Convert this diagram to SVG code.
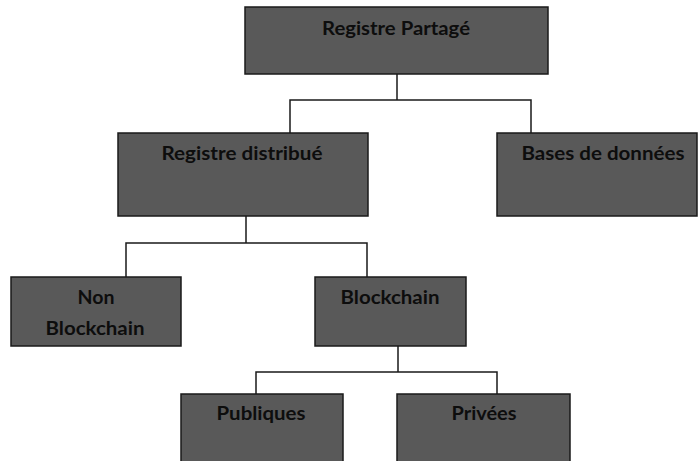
<svg xmlns="http://www.w3.org/2000/svg" width="698" height="461" viewBox="0 0 698 461">
<style>
.box{fill:#595959;stroke:#1a1a1a;stroke-width:1.5}
.lbl{font-family:Lato,"Liberation Sans",sans-serif;font-weight:bold;font-size:18px;fill:#0d0d0d;text-anchor:middle}
.conn{fill:none;stroke:#1a1a1a;stroke-width:1.5}
</style>
<rect width="698" height="461" fill="#fff"/>
<g id="connectors">
<path class="conn" d="M397,74 V100 M290,133 V100 H531 V133"/>
<path class="conn" d="M246,216 V243 M126,277 V243 H367 V277"/>
<path class="conn" d="M398,346 V372 M256,394 V372 H497 V394"/>
</g>
<g id="n-registre-partage"><rect class="box" x="245" y="7" width="303" height="67"/><text class="lbl" x="396" y="35" textLength="148" lengthAdjust="spacingAndGlyphs">Registre Partagé</text></g>
<g id="n-registre-distribue"><rect class="box" x="118" y="133" width="250" height="83"/><text class="lbl" x="242" y="160" textLength="161" lengthAdjust="spacingAndGlyphs">Registre distribué</text></g>
<g id="n-bases"><rect class="box" x="497" y="133" width="200" height="83"/><text class="lbl" x="603" y="160" textLength="163" lengthAdjust="spacingAndGlyphs">Bases de données</text></g>
<g id="n-non-blockchain"><rect class="box" x="11" y="277" width="170" height="69"/><text class="lbl" x="96" y="304" textLength="37" lengthAdjust="spacingAndGlyphs">Non</text><text class="lbl" x="95" y="335" textLength="99" lengthAdjust="spacingAndGlyphs">Blockchain</text></g>
<g id="n-blockchain"><rect class="box" x="315" y="277" width="151" height="69"/><text class="lbl" x="390" y="304" textLength="99" lengthAdjust="spacingAndGlyphs">Blockchain</text></g>
<g id="n-publiques"><rect class="box" x="181" y="394" width="162" height="80"/><text class="lbl" x="261" y="420" textLength="89" lengthAdjust="spacingAndGlyphs">Publiques</text></g>
<g id="n-privees"><rect class="box" x="397" y="394" width="173" height="80"/><text class="lbl" x="484" y="420" textLength="65" lengthAdjust="spacingAndGlyphs">Privées</text></g>
</svg>
